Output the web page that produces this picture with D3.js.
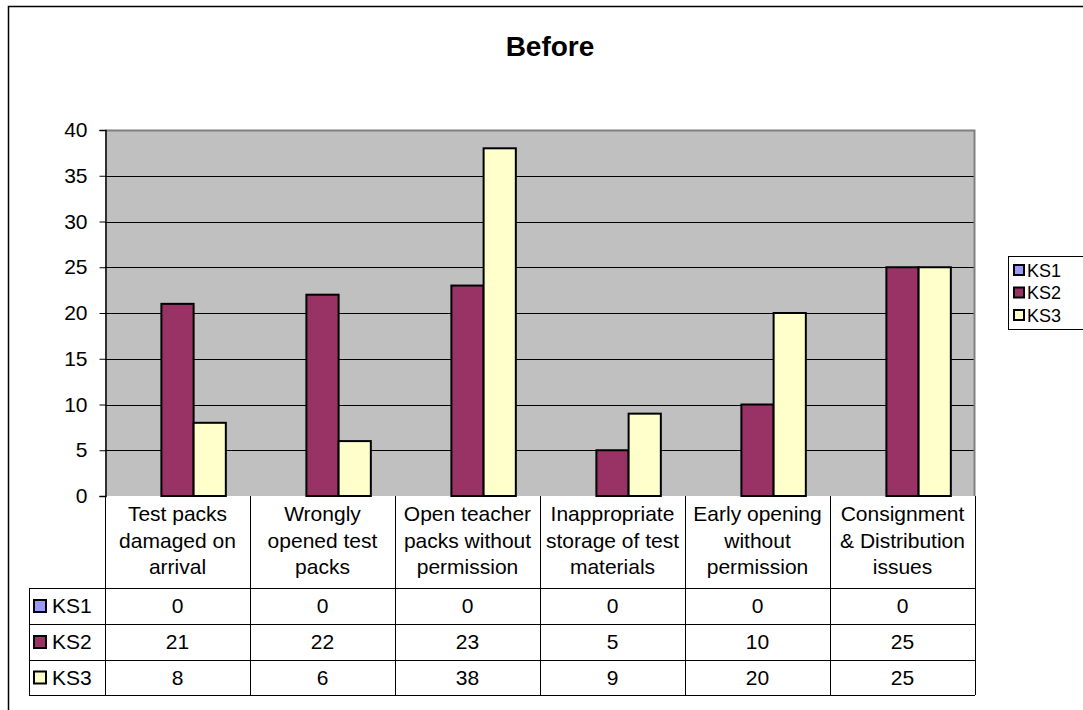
<!DOCTYPE html>
<html>
<head>
<meta charset="utf-8">
<script src="https://cdn.jsdelivr.net/npm/d3@7"></script>
<style>
  html, body { margin: 0; padding: 0; background: #fff; }
  svg { display: block; font-family: "Liberation Sans", Arial, sans-serif; }
</style>
</head>
<body>
<svg id="chart" width="1083" height="710"></svg>
<script>
// Incident categories (wrapped as shown in the data table header)
const categories = [
  "Test packs damaged on arrival",
  "Wrongly opened test packs",
  "Open teacher packs without permission",
  "Inappropriate storage of test materials",
  "Early opening without permission",
  "Consignment & Distribution issues"
];
const categoryLines = [
  ["Test packs", "damaged on", "arrival"],
  ["Wrongly", "opened test", "packs"],
  ["Open teacher", "packs without", "permission"],
  ["Inappropriate", "storage of test", "materials"],
  ["Early opening", "without", "permission"],
  ["Consignment", "& Distribution", "issues"]
];
const seriesNames = ["KS1", "KS2", "KS3"];
const ks1 = [0, 0, 0, 0, 0, 0];
const ks2 = [21, 22, 23, 5, 10, 25];
const ks3 = [8, 6, 38, 9, 20, 25];
const yTicks = [0, 5, 10, 15, 20, 25, 30, 35, 40];
const seriesColors = ["#9999FF", "#993366", "#FFFFCC"];

const seriesValues = [ks1, ks2, ks3];

const svg = d3.select("#chart");

// outer chart frame
svg.append("rect")
  .attr("x", 8.5).attr("y", 6.5)
  .attr("width", 1100).attr("height", 720)
  .attr("fill", "#fff").attr("stroke", "#000").attr("stroke-width", 1.5);

// title
svg.append("text")
  .attr("x", 550).attr("y", 56)
  .attr("text-anchor", "middle")
  .attr("font-size", 28).attr("font-weight", "bold")
  .text("Before");

const plot = { left: 105, right: 975, top: 130, bottom: 496 };

const x = d3.scaleBand().domain(categories).range([plot.left, plot.right]).padding(0);
const xs = d3.scaleBand().domain(seriesNames).range([0, x.bandwidth()])
  .paddingInner(0).paddingOuter(0.75);
const y = d3.scaleLinear().domain([0, 40]).range([plot.bottom, plot.top]);

// plot background
svg.append("rect")
  .attr("x", plot.left).attr("y", plot.top)
  .attr("width", plot.right - plot.left).attr("height", plot.bottom - plot.top)
  .attr("fill", "#C0C0C0");

// gridlines
svg.append("g")
  .selectAll("line")
  .data(yTicks.filter(t => t > 0 && t < 40))
  .join("line")
  .attr("x1", plot.left).attr("x2", plot.right)
  .attr("y1", d => Math.round(y(d)) + 0.5).attr("y2", d => Math.round(y(d)) + 0.5)
  .attr("stroke", "#000").attr("stroke-width", 1);

// plot area border (top and right, grey)
svg.append("path")
  .attr("d", `M${plot.left},${plot.top + 0.5}H${plot.right - 0.5}V${plot.bottom}`)
  .attr("fill", "none").attr("stroke", "#808080").attr("stroke-width", 2);

// bars
const groups = svg.append("g").selectAll("g")
  .data(seriesNames)
  .join("g")
  .attr("fill", (d, i) => seriesColors[i]);

groups.selectAll("rect")
  .data((s, si) => categories.map((c, ci) => ({ s, c, v: seriesValues[si][ci] })))
  .join("rect")
  .filter(d => d.v > 0)
  .attr("x", d => x(d.c) + xs(d.s))
  .attr("y", d => y(d.v))
  .attr("width", xs.bandwidth())
  .attr("height", d => y(0) - y(d.v))
  .attr("stroke", "#000").attr("stroke-width", 2);

// y axis
const yAxis = d3.axisLeft(y).tickValues(yTicks).tickSize(6).tickPadding(12);
const ya = svg.append("g")
  .attr("transform", `translate(${plot.left + 0.5},0)`)
  .call(yAxis);
ya.select(".domain").attr("stroke", "#000").attr("stroke-width", 1.5);
ya.selectAll(".tick line").attr("stroke", "#000");
ya.selectAll(".tick text")
  .attr("font-size", 21).attr("fill", "#000")
  .attr("font-family", "'Liberation Sans', Arial, sans-serif");

// data table
const table = { rows: [588, 624, 660, 695], labelLeft: 29 };
const tg = svg.append("g").attr("stroke", "#000").attr("stroke-width", 1);

// vertical separators
const colEdges = categories.map(c => x(c)).concat([plot.right]);
tg.selectAll("line.v")
  .data(colEdges)
  .join("line").attr("class", "v")
  .attr("x1", d => Math.round(d) + 0.5).attr("x2", d => Math.round(d) + 0.5)
  .attr("y1", plot.bottom).attr("y2", table.rows[3]);
// left edge of the series-name column
tg.append("line")
  .attr("x1", table.labelLeft + 0.5).attr("x2", table.labelLeft + 0.5)
  .attr("y1", table.rows[0]).attr("y2", table.rows[3]);
// horizontal rules
tg.selectAll("line.h")
  .data(table.rows)
  .join("line").attr("class", "h")
  .attr("x1", table.labelLeft).attr("x2", plot.right)
  .attr("y1", d => d + 0.5).attr("y2", d => d + 0.5);

// header labels
const hdr = svg.append("g").attr("font-size", 21).attr("text-anchor", "middle");
categories.forEach((c, ci) => {
  const cx = x(c) + x.bandwidth() / 2;
  hdr.append("text")
    .attr("x", cx).attr("y", 521)
    .selectAll("tspan")
    .data(categoryLines[ci])
    .join("tspan")
    .attr("x", cx)
    .attr("dy", (d, i) => i === 0 ? 0 : 26.5)
    .text(d => d);
});

// value rows
seriesNames.forEach((s, si) => {
  const top = table.rows[si], bot = table.rows[si + 1];
  const cy = (top + bot) / 2 + 7;
  svg.append("rect")
    .attr("x", 34).attr("y", cy - 13)
    .attr("width", 12).attr("height", 12)
    .attr("fill", seriesColors[si]).attr("stroke", "#000").attr("stroke-width", 2);
  svg.append("text")
    .attr("x", 52).attr("y", cy)
    .attr("font-size", 21).text(s);
  svg.append("g").selectAll("text")
    .data(categories)
    .join("text")
    .attr("x", c => x(c) + x.bandwidth() / 2)
    .attr("y", cy)
    .attr("text-anchor", "middle")
    .attr("font-size", 21)
    .text((c, ci) => seriesValues[si][ci]);
});

// legend
const lg = svg.append("g");
lg.append("rect")
  .attr("x", 1008.5).attr("y", 256.5)
  .attr("width", 100).attr("height", 73)
  .attr("fill", "#fff").attr("stroke", "#000").attr("stroke-width", 1);
seriesNames.forEach((s, si) => {
  const cy = 270 + si * 22.5;
  lg.append("rect")
    .attr("x", 1014).attr("y", cy - 5)
    .attr("width", 10).attr("height", 10)
    .attr("fill", seriesColors[si]).attr("stroke", "#000").attr("stroke-width", 2);
  lg.append("text")
    .attr("x", 1027).attr("y", cy + 6.5)
    .attr("font-size", 18).text(s);
});
</script>
</body>
</html>
